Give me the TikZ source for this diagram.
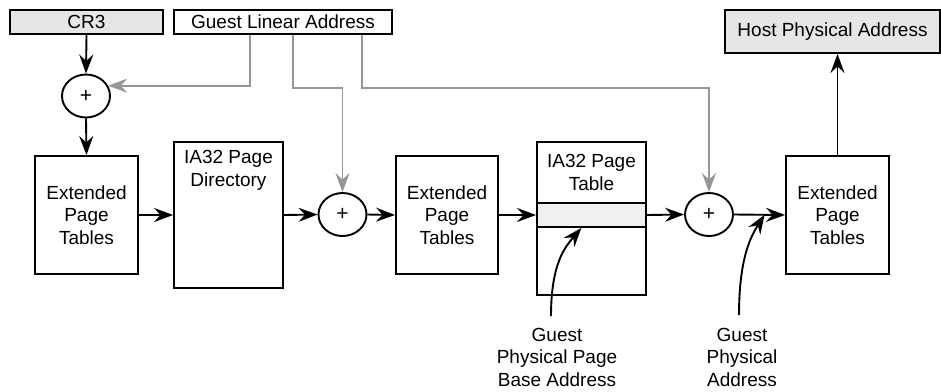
\documentclass[tikz,border=0pt]{standalone}
\usepackage{fontspec}
\setmainfont{Liberation Sans}
\usetikzlibrary{positioning}
\usetikzlibrary{arrows.meta}
\usetikzlibrary{shapes.geometric}

\definecolor{boxgray}{RGB}{230,230,230}
\definecolor{bandgray}{RGB}{240,240,240}
\definecolor{tapgray}{RGB}{150,150,150}

\tikzset{
  box/.style={draw,line width=1.9pt,inner sep=0pt,align=center},
  adder/.style={draw,ellipse,line width=1.9pt,minimum width=48pt,minimum height=43pt,
                inner sep=0pt,font=\fontsize{21}{21}\selectfont},
  link/.style={line width=1.9pt,-{Stealth[length=19pt,width=14pt,inset=6.5pt]}},
  tap/.style={link,color=tapgray}
}

\begin{document}
\begin{tikzpicture}[x=1pt,y=-1pt,font=\fontsize{19}{22.5}\selectfont]
\useasboundingbox (0,0) rectangle (941,391);

\node[box,fill=boxgray,minimum width=153pt,minimum height=24pt] (cr3) at (86.5,22) {CR3};
\node[box,minimum width=218pt,minimum height=24pt] (gla) at (283,22) {Guest Linear Address};
\node[box,fill=boxgray,minimum width=215pt,minimum height=43pt] (hpa) at (832.5,31.5) {Host Physical Address};

\node[adder] (plus1) at (86,96) {+};
\node[adder] (plus2) at (342.5,214.5) {+};
\node[adder] (plus3) at (709,214.5) {+};

\node[box,minimum width=103pt,minimum height=118pt] (ept1) at (86.5,215) {Extended\\Page\\Tables};
\node[box,minimum width=102pt,minimum height=118pt] (ept2) at (447,215) {Extended\\Page\\Tables};
\node[box,minimum width=103pt,minimum height=118pt] (ept3) at (837.5,215) {Extended\\Page\\Tables};

\node[box,minimum width=109pt,minimum height=146pt] (pd) at (228.5,215) {};
\node[below=9pt of pd.north,align=center,inner sep=0pt] (pdname) {IA32 Page\\Directory};

\node[box,minimum width=109pt,minimum height=153pt] (pt) at (591.5,218.5) {};
\node[below=13pt of pt.north,align=center,inner sep=0pt] (ptname) {IA32 Page\\Table};
\node[box,fill=bandgray,minimum width=109pt,minimum height=24pt] (band) at (591.5,215) {};

\node[align=center] (gppba) at (557,357) {Guest\\Physical Page\\Base Address};
\node[align=center] (gpa) at (742,357) {Guest\\Physical\\Address};
\coordinate (gppbaTail) at (551,316);
\coordinate (gpaTail) at (739,315);

\draw[tap] ([xshift=-33pt]gla.south) |- (plus1.25);
\draw[tap] ([xshift=10pt]gla.south) -- ++(0,53) -| (plus2.north);
\draw[tap] ([xshift=79pt]gla.south) -- ++(0,53) -| (plus3.north);

\draw[link] (cr3.south) -- (plus1.north);
\draw[link] (plus1.south) -- (ept1.north);
\draw[link] (ept1.east) -- (pd.west);
\draw[link] (pd.east) -- (plus2.west);
\draw[link] (plus2.east) -- (ept2.west);
\draw[link] (ept2.east) -- (ept2.east -| pt.west);
\draw[link] (band.east) -- (plus3.west);
\draw[link] (plus3.east) -- coordinate[pos=0.6] (gpaTip) (ept3.west);
\draw[link] (ept3.north) -- (ept3.north |- hpa.south);

\draw[link] (gppbaTail) .. controls (551,262) and (566,246) .. (band.232);
\draw[link] (gpaTail) .. controls (739,258) and (751,236) .. (gpaTip);
\end{tikzpicture}
\end{document}
